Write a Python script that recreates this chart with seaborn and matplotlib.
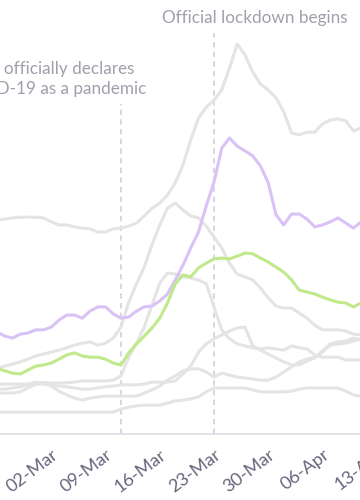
import numpy as np
import pandas as pd
import matplotlib
matplotlib.use("Agg")
import matplotlib.pyplot as plt
import seaborn as sns

# ---------------- data (daily, 24-Feb-2020 .. 12-Apr-2020) ----------------
dates = pd.date_range("2020-02-24", "2020-04-12", freq="D")

purple = [26.2, 25.1, 24.6, 25.6, 25.9, 26.7, 26.7, 27.4, 29.2, 30.5, 30.5, 29.7,
          31.5, 32.6, 32.6, 30.8, 29.7, 30.0, 31.5, 32.6, 32.8, 34.1, 35.9, 39.5,
          43.3, 47.7, 51.8, 58.5, 64.6, 73.3, 75.9, 73.8, 72.6, 71.3, 68.7, 64.4,
          56.2, 53.6, 56.4, 56.4, 55.1, 53.1, 53.6, 54.4, 55.4, 54.1, 52.8, 54.4, 55.4]

green = [16.9, 16.2, 15.6, 15.4, 16.4, 17.4, 17.7, 18.2, 19.2, 20.3, 20.8, 20.0,
         19.7, 19.7, 19.2, 18.2, 17.7, 20.8, 23.1, 25.1, 27.2, 29.7, 33.6, 38.5,
         40.8, 40.3, 42.6, 43.8, 44.9, 45.1, 44.9, 45.6, 46.4, 46.2, 45.1, 44.1,
         42.8, 41.5, 39.5, 36.9, 36.4, 35.9, 35.1, 34.4, 33.8, 33.6, 32.6, 33.6, 34.4]

gray_a = [54.9, 55.1, 55.4, 55.6, 55.6, 55.6, 55.4, 54.4, 53.6, 53.6, 53.1, 52.8,
          52.6, 51.8, 51.8, 52.6, 52.8, 53.3, 54.1, 55.9, 57.9, 59.2, 61.3, 64.4,
          69.0, 75.4, 81.0, 83.8, 85.6, 88.2, 93.8, 100.0, 97.2, 92.8, 89.7, 88.2,
          86.2, 82.6, 77.2, 76.7, 77.4, 77.4, 79.5, 80.5, 80.8, 80.3, 77.7, 78.5, 79.0]

gray_b = [16.9, 17.4, 17.9, 18.5, 19.2, 20.0, 20.5, 21.0, 21.5, 22.1, 22.8, 23.3,
          23.6, 22.8, 23.3, 24.6, 27.4, 33.8, 38.5, 42.8, 48.5, 53.6, 57.9, 59.2,
          57.4, 55.9, 55.4, 53.3, 50.5, 47.7, 43.8, 41.0, 40.3, 39.5, 37.4, 34.9,
          32.8, 32.3, 32.3, 31.0, 29.7, 27.9, 26.7, 26.7, 26.7, 26.4, 25.6, 25.4, 25.4]

gray_c = [12.8, 12.8, 12.8, 12.8, 12.8, 13.3, 13.1, 13.1, 13.1, 13.1, 13.3, 13.6,
          13.6, 13.6, 13.6, 13.8, 14.9, 19.7, 23.3, 27.4, 33.1, 38.7, 41.3, 41.0,
          40.3, 40.0, 39.5, 38.5, 32.6, 26.7, 24.4, 23.1, 22.6, 22.1, 21.8, 22.1,
          21.8, 21.5, 22.6, 22.1, 21.8, 20.3, 19.7, 19.7, 19.7, 19.0, 19.0, 19.0, 19.0]

gray_d = [11.5, 11.5, 11.8, 12.1, 12.6, 12.8, 12.8, 12.6, 12.3, 12.1, 11.8, 11.5,
          11.5, 11.8, 12.1, 12.3, 12.6, 12.6, 12.6, 12.8, 13.3, 13.3, 13.3, 13.6,
          15.4, 17.4, 21.0, 23.1, 24.4, 25.4, 26.4, 27.2, 27.4, 22.6, 21.5, 20.5,
          19.5, 18.5, 17.7, 17.7, 18.7, 19.5, 21.3, 23.1, 23.6, 23.8, 24.6, 24.1, 24.1]

gray_e = [10.5, 10.5, 10.5, 10.8, 11.8, 12.8, 13.1, 12.3, 11.0, 10.0, 9.2, 8.7,
          9.2, 9.5, 9.7, 9.7, 9.7, 9.7, 9.7, 10.5, 11.3, 12.3, 13.8, 14.9,
          16.2, 16.7, 16.7, 15.9, 14.6, 15.6, 15.1, 14.6, 14.4, 14.1, 13.8, 13.8,
          14.6, 15.9, 17.2, 18.5, 19.2, 19.7, 21.0, 22.8, 23.1, 23.3, 23.8, 24.4, 24.4]

gray_f = [5.6, 5.6, 5.6, 5.6, 5.6, 5.6, 5.6, 5.6, 5.6, 5.6, 5.6, 5.6,
          5.6, 5.6, 5.6, 5.6, 6.4, 6.9, 7.2, 7.4, 7.4, 7.4, 7.9, 8.5,
          8.7, 9.0, 9.5, 10.8, 11.8, 11.8, 11.8, 11.8, 11.8, 11.3, 10.8, 10.8,
          10.8, 10.8, 11.0, 11.5, 11.8, 11.8, 11.8, 11.8, 11.8, 11.0, 10.0, 9.7, 9.7]

tick_dates = pd.to_datetime(["2020-03-02", "2020-03-09", "2020-03-16", "2020-03-23",
                             "2020-03-30", "2020-04-06", "2020-04-13"])
tick_labels = ["02-Mar", "09-Mar", "16-Mar", "23-Mar", "30-Mar", "06-Apr", "13-Apr"]

who_date = pd.Timestamp("2020-03-11")
lockdown_date = pd.Timestamp("2020-03-23")
who_text = "WHO officially declares\nCOVID-19 as a pandemic"
lockdown_text = "Official lockdown begins"

series = {
    "gray_a": gray_a, "gray_b": gray_b, "gray_c": gray_c, "gray_d": gray_d,
    "gray_e": gray_e, "gray_f": gray_f, "purple": purple, "green": green,
}
df = pd.DataFrame({
    "date": np.tile(dates, len(series)),
    "series": np.repeat(list(series.keys()), len(dates)),
    "value": np.concatenate([series[k] for k in series]),
})

# ---------------- style ----------------
sns.set_theme(style="white")
plt.rcParams["font.family"] = ["Lato", "DejaVu Sans"]

GRAY = "#e4e4e4"
palette = {k: GRAY for k in series if k.startswith("gray")}
palette["purple"] = "#d9c3f6"
palette["green"] = "#c0e98c"

fig = plt.figure(figsize=(3.6, 5.0), dpi=100)
fig.patch.set_facecolor("white")
# axes deliberately wider than the figure: the reference is a cropped view
ax = fig.add_axes([-40 / 360, 66 / 500, 440 / 360, 434 / 500])

sns.lineplot(data=df, x="date", y="value", hue="series", hue_order=list(series),
             palette=palette, linewidth=2.2, legend=False, ax=ax,
             solid_joinstyle="round", solid_capstyle="round", zorder=3)

dash = (0, (3.2, 2.6))
ax.axvline(who_date, ymin=0, ymax=(434 - 104) / 434, color="#d0d0de",
           lw=1.2, ls=dash, zorder=2)
ax.axvline(lockdown_date, ymin=0, ymax=(434 - 33) / 434, color="#d0d0de",
           lw=1.2, ls=dash, zorder=2)

x0 = pd.Timestamp("2020-03-02")
ax.set_xlim(x0 + pd.Timedelta(days=-11.774), x0 + pd.Timedelta(days=45.0))
ax.set_ylim(0, 434 / 3.9)

ax.set_xticks(tick_dates)
ax.set_xticklabels(tick_labels, rotation=37, ha="right", rotation_mode="anchor")
ax.tick_params(axis="x", length=0, pad=9, labelsize=13, labelcolor="#66667d")
ax.set_yticks([])
ax.set_xlabel("")
ax.set_ylabel("")
for s in ["left", "top", "right"]:
    ax.spines[s].set_visible(False)
ax.spines["bottom"].set_color("#dcdce4")
ax.spines["bottom"].set_linewidth(1.2)
ax.set_facecolor("white")

fig.text(162 / 360, 1 - 18 / 500, lockdown_text, ha="left", va="center",
         fontsize=12.3, color="#a0a0ac")
fig.text(146 / 360, 1 - 79 / 500, who_text, ha="right", va="center",
         multialignment="left", fontsize=12.3, color="#a0a0ac", linespacing=1.3)

fig.savefig("out.png", dpi=100, facecolor="white")
